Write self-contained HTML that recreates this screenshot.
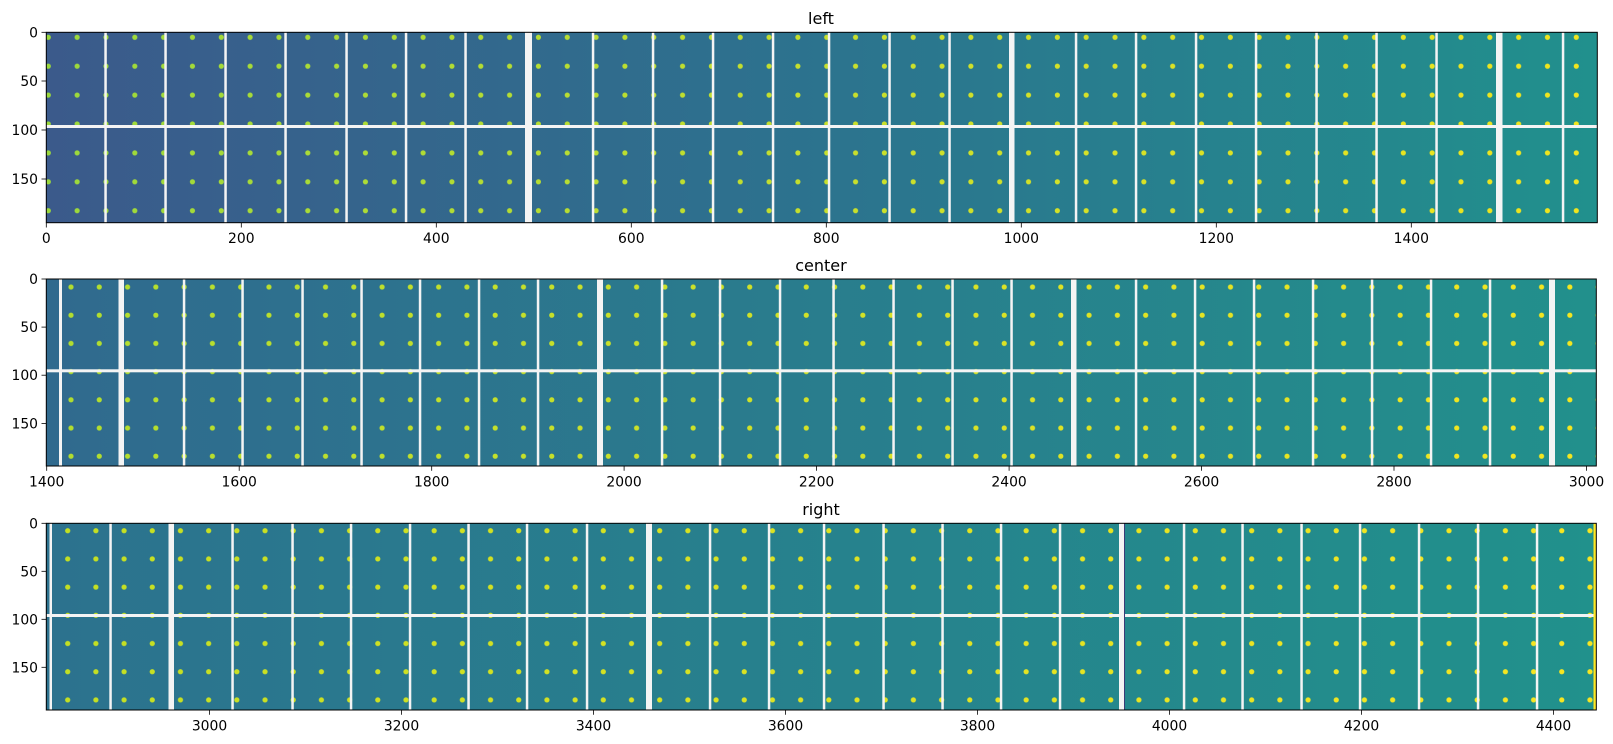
<!DOCTYPE html>
<html><head><meta charset="utf-8"><style>
html,body{margin:0;padding:0;background:#fff;}
svg{display:block;font-family:"DejaVu Sans","Liberation Sans",sans-serif;}
</style></head><body>
<svg width="1613" height="744" viewBox="0 0 1613 744" xmlns="http://www.w3.org/2000/svg">
<defs>
<linearGradient id="bg1" x1="0" x2="1"><stop offset="0" stop-color="#3b5a8b"/><stop offset="0.5" stop-color="#2c738e"/><stop offset="1" stop-color="#21908d"/></linearGradient>
<linearGradient id="bg2" x1="0" x2="1"><stop offset="0" stop-color="#306a8e"/><stop offset="1" stop-color="#22908c"/></linearGradient>
<linearGradient id="bg3" x1="0" x2="1"><stop offset="0" stop-color="#2c728e"/><stop offset="1" stop-color="#21918c"/></linearGradient>
<linearGradient id="dg1" x1="0" x2="1"><stop offset="0" stop-color="#9bd93c"/><stop offset="1" stop-color="#f2e51d"/></linearGradient>
<linearGradient id="dg2" x1="0" x2="1"><stop offset="0" stop-color="#b0dd2f"/><stop offset="1" stop-color="#f5e61f"/></linearGradient>
<linearGradient id="dg3" x1="0" x2="1"><stop offset="0" stop-color="#c2df23"/><stop offset="1" stop-color="#f8e621"/></linearGradient>
<pattern id="p1" patternUnits="userSpaceOnUse" x="34" y="22.85" width="28.83" height="28.9"><circle cx="14.3" cy="14.45" r="2.6" fill="#fff"/></pattern>
<pattern id="p2" patternUnits="userSpaceOnUse" x="56.86" y="272.9" width="28.28" height="28.2"><circle cx="14.14" cy="14.1" r="2.6" fill="#fff"/></pattern>
<pattern id="p3" patternUnits="userSpaceOnUse" x="53.6" y="516.6" width="28.19" height="28.2"><circle cx="14.1" cy="14.1" r="2.6" fill="#fff"/></pattern>
<mask id="m1"><rect x="46" y="32" width="1552" height="191" fill="url(#p1)"/></mask>
<mask id="m2"><rect x="46" y="279" width="1551" height="187" fill="url(#p2)"/></mask>
<mask id="m3"><rect x="46" y="523" width="1551" height="187" fill="url(#p3)"/></mask>
</defs>

<!-- Panel 1 -->
<text x="821" y="24" font-size="16" text-anchor="middle" fill="#000">left</text>
<rect x="46.3" y="32.3" width="1551" height="190.4" fill="url(#bg1)"/>
<rect x="46.3" y="32.3" width="1551" height="190.4" fill="url(#dg1)" mask="url(#m1)"/>
<g fill="#f4f4f4">
<rect x="46.3" y="125" width="1551" height="3"/>
<rect x="104.3" y="32.3" width="2.5" height="190.4"/><rect x="164.3" y="32.3" width="2.5" height="190.4"/><rect x="224.3" y="32.3" width="2.5" height="190.4"/><rect x="284.3" y="32.3" width="2.5" height="190.4"/><rect x="345.3" y="32.3" width="2.5" height="190.4"/><rect x="404.8" y="32.3" width="2.5" height="190.4"/><rect x="464.3" y="32.3" width="2.5" height="190.4"/>
<rect x="525" y="32.3" width="7" height="190.4"/>
<rect x="591.8" y="32.3" width="2.5" height="190.4"/><rect x="651.8" y="32.3" width="2.5" height="190.4"/><rect x="711.8" y="32.3" width="2.5" height="190.4"/><rect x="771.8" y="32.3" width="2.5" height="190.4"/><rect x="827.8" y="32.3" width="2.5" height="190.4"/><rect x="888.3" y="32.3" width="2.5" height="190.4"/><rect x="948.3" y="32.3" width="2.5" height="190.4"/>
<rect x="1009" y="32.3" width="5.5" height="190.4"/>
<rect x="1074.8" y="32.3" width="2.5" height="190.4"/><rect x="1134.8" y="32.3" width="2.5" height="190.4"/><rect x="1194.8" y="32.3" width="2.5" height="190.4"/><rect x="1254.8" y="32.3" width="2.5" height="190.4"/><rect x="1315.3" y="32.3" width="2.5" height="190.4"/><rect x="1375.3" y="32.3" width="2.5" height="190.4"/><rect x="1435.3" y="32.3" width="2.5" height="190.4"/>
<rect x="1496" y="32.3" width="6.5" height="190.4"/>
<rect x="1561.8" y="32.3" width="2.5" height="190.4"/>
</g>
<rect x="46.3" y="32.3" width="1551" height="190.4" fill="none" stroke="#000" stroke-width="1"/>
<g stroke="#000" stroke-width="0.8">
<line x1="41.5" y1="32.3" x2="46.3" y2="32.3"/><line x1="41.5" y1="81" x2="46.3" y2="81"/><line x1="41.5" y1="130" x2="46.3" y2="130"/><line x1="41.5" y1="179" x2="46.3" y2="179"/>
<line x1="46.3" y1="222.7" x2="46.3" y2="227.5"/><line x1="241.3" y1="222.7" x2="241.3" y2="227.5"/><line x1="436.3" y1="222.7" x2="436.3" y2="227.5"/><line x1="631.3" y1="222.7" x2="631.3" y2="227.5"/><line x1="826.3" y1="222.7" x2="826.3" y2="227.5"/><line x1="1021.3" y1="222.7" x2="1021.3" y2="227.5"/><line x1="1216.3" y1="222.7" x2="1216.3" y2="227.5"/><line x1="1411.3" y1="222.7" x2="1411.3" y2="227.5"/>
</g>
<g font-size="13.9" fill="#000" text-anchor="end">
<text x="38" y="37.3">0</text><text x="38" y="86">50</text><text x="38" y="135">100</text><text x="38" y="184">150</text>
</g>
<g font-size="13.9" fill="#000" text-anchor="middle">
<text x="46.3" y="243">0</text><text x="241.3" y="243">200</text><text x="436.3" y="243">400</text><text x="631.3" y="243">600</text><text x="826.3" y="243">800</text><text x="1021.3" y="243">1000</text><text x="1216.3" y="243">1200</text><text x="1411.3" y="243">1400</text>
</g>

<!-- Panel 2 -->
<text x="821" y="271" font-size="16" text-anchor="middle" fill="#000">center</text>
<rect x="46.3" y="279" width="1550" height="187" fill="url(#bg2)"/>
<rect x="46.3" y="279" width="1550" height="187" fill="url(#dg2)" mask="url(#m2)"/>
<g fill="#f4f4f4">
<rect x="46.3" y="369.3" width="1550" height="3"/>
<rect x="59" y="279" width="3" height="187"/>
<rect x="118.5" y="279" width="5.5" height="187"/>
<rect x="182.8" y="279" width="2.5" height="187"/><rect x="241.3" y="279" width="2.5" height="187"/><rect x="301.3" y="279" width="2.5" height="187"/><rect x="360.3" y="279" width="2.5" height="187"/><rect x="418.8" y="279" width="2.5" height="187"/><rect x="477.8" y="279" width="2.5" height="187"/><rect x="536.8" y="279" width="2.5" height="187"/>
<rect x="597" y="279" width="6" height="187"/>
<rect x="660.8" y="279" width="2.5" height="187"/><rect x="718.8" y="279" width="2.5" height="187"/><rect x="778.8" y="279" width="2.5" height="187"/><rect x="832.3" y="279" width="2.5" height="187"/><rect x="892.3" y="279" width="2.5" height="187"/><rect x="951.3" y="279" width="2.5" height="187"/><rect x="1010.3" y="279" width="2.5" height="187"/>
<rect x="1071" y="279" width="5.5" height="187"/>
<rect x="1134.8" y="279" width="2.5" height="187"/><rect x="1193.8" y="279" width="2.5" height="187"/><rect x="1252.8" y="279" width="2.5" height="187"/><rect x="1311.8" y="279" width="2.5" height="187"/><rect x="1370.8" y="279" width="2.5" height="187"/><rect x="1429.8" y="279" width="2.5" height="187"/><rect x="1488.8" y="279" width="2.5" height="187"/>
<rect x="1549" y="279" width="6" height="187"/>
</g>
<rect x="46.3" y="279" width="1550" height="187" fill="none" stroke="#000" stroke-width="1"/>
<g stroke="#000" stroke-width="0.8">
<line x1="41.5" y1="279" x2="46.3" y2="279"/><line x1="41.5" y1="327.1" x2="46.3" y2="327.1"/><line x1="41.5" y1="375.2" x2="46.3" y2="375.2"/><line x1="41.5" y1="423.4" x2="46.3" y2="423.4"/>
<line x1="46.7" y1="466" x2="46.7" y2="470.8"/><line x1="239.2" y1="466" x2="239.2" y2="470.8"/><line x1="431.7" y1="466" x2="431.7" y2="470.8"/><line x1="624.1" y1="466" x2="624.1" y2="470.8"/><line x1="816.6" y1="466" x2="816.6" y2="470.8"/><line x1="1009.1" y1="466" x2="1009.1" y2="470.8"/><line x1="1201.6" y1="466" x2="1201.6" y2="470.8"/><line x1="1394" y1="466" x2="1394" y2="470.8"/><line x1="1586.5" y1="466" x2="1586.5" y2="470.8"/>
</g>
<g font-size="13.9" fill="#000" text-anchor="end">
<text x="38" y="284">0</text><text x="38" y="332.1">50</text><text x="38" y="380.2">100</text><text x="38" y="428.4">150</text>
</g>
<g font-size="13.9" fill="#000" text-anchor="middle">
<text x="46.7" y="486.5">1400</text><text x="239.2" y="486.5">1600</text><text x="431.7" y="486.5">1800</text><text x="624.1" y="486.5">2000</text><text x="816.6" y="486.5">2200</text><text x="1009.1" y="486.5">2400</text><text x="1201.6" y="486.5">2600</text><text x="1394" y="486.5">2800</text><text x="1586.5" y="486.5">3000</text>
</g>

<!-- Panel 3 -->
<text x="821" y="515" font-size="16" text-anchor="middle" fill="#000">right</text>
<rect x="46.3" y="523.3" width="1550" height="186.7" fill="url(#bg3)"/>
<rect x="46.3" y="523.3" width="1550" height="186.7" fill="url(#dg3)" mask="url(#m3)"/>
<g fill="#f4f4f4">
<rect x="46.3" y="614" width="1550" height="3"/>
<rect x="49.5" y="523.3" width="2.5" height="186.7"/>
<rect x="109.3" y="523.3" width="2.5" height="186.7"/>
<rect x="168.5" y="523.3" width="5.5" height="186.7"/>
<rect x="231.3" y="523.3" width="2.5" height="186.7"/><rect x="291.3" y="523.3" width="2.5" height="186.7"/><rect x="349.8" y="523.3" width="2.5" height="186.7"/><rect x="408.8" y="523.3" width="2.5" height="186.7"/><rect x="467.3" y="523.3" width="2.5" height="186.7"/><rect x="525.8" y="523.3" width="2.5" height="186.7"/><rect x="585.8" y="523.3" width="2.5" height="186.7"/>
<rect x="646" y="523.3" width="6" height="186.7"/>
<rect x="708.8" y="523.3" width="2.5" height="186.7"/><rect x="767.8" y="523.3" width="2.5" height="186.7"/><rect x="822.8" y="523.3" width="2.5" height="186.7"/><rect x="882.3" y="523.3" width="2.5" height="186.7"/><rect x="941.3" y="523.3" width="2.5" height="186.7"/><rect x="999.8" y="523.3" width="2.5" height="186.7"/><rect x="1058.8" y="523.3" width="2.5" height="186.7"/>
<rect x="1119" y="523.3" width="5" height="186.7"/>
<rect x="1182.8" y="523.3" width="2.5" height="186.7"/><rect x="1241.3" y="523.3" width="2.5" height="186.7"/><rect x="1300.3" y="523.3" width="2.5" height="186.7"/><rect x="1358.8" y="523.3" width="2.5" height="186.7"/><rect x="1417.8" y="523.3" width="2.5" height="186.7"/><rect x="1476.8" y="523.3" width="2.5" height="186.7"/><rect x="1535.8" y="523.3" width="2.5" height="186.7"/>
</g>
<rect x="1124" y="523.3" width="1" height="186.7" fill="#3a3a78"/>
<rect x="1593.5" y="523.3" width="2.5" height="186.7" fill="#fde725"/>
<rect x="46.3" y="523.3" width="1550" height="186.7" fill="none" stroke="#000" stroke-width="1"/>
<g stroke="#000" stroke-width="0.8">
<line x1="41.5" y1="523.3" x2="46.3" y2="523.3"/><line x1="41.5" y1="571.3" x2="46.3" y2="571.3"/><line x1="41.5" y1="619.3" x2="46.3" y2="619.3"/><line x1="41.5" y1="667.3" x2="46.3" y2="667.3"/>
<line x1="209.5" y1="710" x2="209.5" y2="714.8"/><line x1="401.5" y1="710" x2="401.5" y2="714.8"/><line x1="593.5" y1="710" x2="593.5" y2="714.8"/><line x1="785.5" y1="710" x2="785.5" y2="714.8"/><line x1="977.5" y1="710" x2="977.5" y2="714.8"/><line x1="1169.5" y1="710" x2="1169.5" y2="714.8"/><line x1="1361.5" y1="710" x2="1361.5" y2="714.8"/><line x1="1553.5" y1="710" x2="1553.5" y2="714.8"/>
</g>
<g font-size="13.9" fill="#000" text-anchor="end">
<text x="38" y="528.3">0</text><text x="38" y="576.3">50</text><text x="38" y="624.3">100</text><text x="38" y="672.3">150</text>
</g>
<g font-size="13.9" fill="#000" text-anchor="middle">
<text x="209.5" y="730.5">3000</text><text x="401.5" y="730.5">3200</text><text x="593.5" y="730.5">3400</text><text x="785.5" y="730.5">3600</text><text x="977.5" y="730.5">3800</text><text x="1169.5" y="730.5">4000</text><text x="1361.5" y="730.5">4200</text><text x="1553.5" y="730.5">4400</text>
</g>
</svg>
</body></html>
